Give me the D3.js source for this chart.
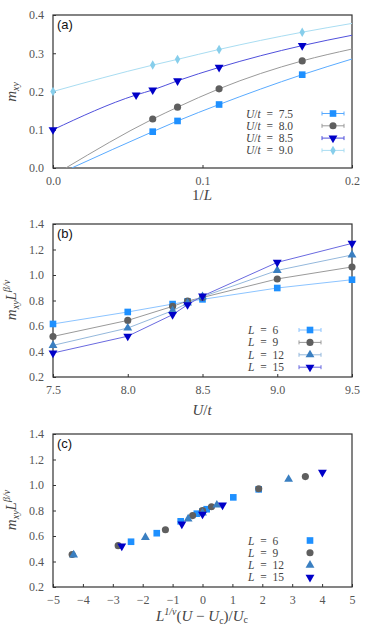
<!DOCTYPE html>
<html>
<head>
<meta charset="utf-8">
<script src="https://cdn.jsdelivr.net/npm/d3@7"></script>
<style>
  body { margin: 0; background: #fff; }
  svg text { font-family: "Liberation Serif", "DejaVu Serif", serif; }
</style>
</head>
<body>
<script>
// panel (a): m_xy vs 1/L
const a75 = [[0.0667, 0.095], [0.0833, 0.123], [0.1111, 0.166], [0.1667, 0.244]]
const a80 = [[0.0667, 0.128], [0.0833, 0.159], [0.1111, 0.207], [0.1667, 0.28]]
const a85 = [[0, 0.1], [0.0556, 0.191], [0.0667, 0.204], [0.0833, 0.228], [0.1111, 0.263], [0.1667, 0.32]]
const a90 = [[0, 0.2], [0.0667, 0.269], [0.0833, 0.284], [0.1111, 0.31], [0.1667, 0.355]]
// fit curves (knots)
const fit75 = [[0.0125, 0], [0.0667, 0.095], [0.0833, 0.123], [0.1111, 0.166], [0.1667, 0.244], [0.2, 0.285]]
const fit80 = [[0.0085, 0], [0.0667, 0.128], [0.0833, 0.159], [0.1111, 0.207], [0.1667, 0.28], [0.2, 0.311]]
const fit85 = [[0, 0.1], [0.0556, 0.191], [0.0667, 0.204], [0.0833, 0.228], [0.1111, 0.263], [0.1667, 0.32], [0.2, 0.347]]
const fit90 = [[0, 0.2], [0.0667, 0.269], [0.0833, 0.284], [0.1111, 0.31], [0.1667, 0.355], [0.2, 0.378]]
const labelsA = ['7.5', '8.0', '8.5', '9.0']
const ticksAx = [0, 0.1, 0.2]
const ticksAy = [0, 0.1, 0.2, 0.3, 0.4]

// panel (b): m_xy L^(beta/nu) vs U/t
const uVals = [7.5, 8.0, 8.3, 8.4, 8.5, 9.0, 9.5]
const b6 = [0.616, 0.71, 0.772, 0.793, 0.809, 0.898, 0.963]
const b9 = [0.518, 0.644, 0.754, 0.796, 0.824, 0.969, 1.063]
const b12 = [0.448, 0.584, 0.72, 0.78, 0.83, 1.036, 1.157]
const b15 = [0.388, 0.52, 0.689, 0.767, 0.835, 1.099, 1.248]
const labelsL = ['6', '9', '12', '15']
const ticksBx = [7.5, 8.0, 8.5, 9.0, 9.5]
const ticksY = [0.2, 0.4, 0.6, 0.8, 1.0, 1.2, 1.4]

// panel (c): collapse
const c6 = [[-2.39, 0.555], [-1.53, 0.622], [-0.73, 0.715], [-0.19, 0.775], [0, 0.793], [0.14, 0.81], [1.03, 0.903], [1.88, 0.966]]
const c9 = [[-4.36, 0.455], [-2.82, 0.524], [-1.24, 0.649], [-0.33, 0.76], [0, 0.8], [0.3, 0.829], [1.88, 0.971], [3.44, 1.066]]
const c12 = [[-4.31, 0.452], [-1.91, 0.589], [-0.48, 0.734], [0, 0.78], [0.48, 0.843], [2.88, 1.045]]
const c15 = [[-2.7, 0.521], [-0.69, 0.694], [0, 0.771], [0.67, 0.842], [4.01, 1.099]]
const ticksCx = [-5, -4, -3, -2, -1, 0, 1, 2, 3, 4, 5]

const W = 374
const H = 628
const x0 = 53
const x1 = 352
const serif = '"Liberation Serif", "DejaVu Serif", serif'

const svg = d3.select('body').append('svg').attr('width', W).attr('height', H)
  .attr('font-family', serif)

const sym = {
  square: { type: d3.symbolSquare, size: 44, rot: 0 },
  circle: { type: d3.symbolCircle, size: 40, rot: 0 },
  down: { type: d3.symbolTriangle, size: 34, rot: 180 },
  up: { type: d3.symbolTriangle, size: 34, rot: 0 },
  diamond: { type: d3.symbolDiamond, size: 26, rot: 0 }
}

const marker = (g, x, y, s, color) => {
  g.append('path')
    .attr('d', d3.symbol().type(sym[s].type).size(sym[s].size)())
    .attr('transform', `translate(${x},${y}) rotate(${sym[s].rot})`)
    .attr('fill', color)
}

const frame = (id, top, bottom, xScale, yScale, xTicks, yTicks, xFmt, yFmt, letter) => {
  const g = svg.append('g')
  g.append('clipPath').attr('id', id).append('rect')
    .attr('x', x0).attr('y', top).attr('width', x1 - x0).attr('height', bottom - top)

  const xAxis = d3.axisBottom(xScale).tickValues(xTicks).tickFormat(xFmt).tickSize(-3).tickPadding(8)
  const yAxis = d3.axisLeft(yScale).tickValues(yTicks).tickFormat(yFmt).tickSize(-3).tickPadding(9)

  g.append('g').attr('transform', `translate(0,${bottom})`).call(xAxis)
    .attr('font-family', serif).attr('font-size', 12)
    .call((a) => a.select('.domain').remove())
  g.append('g').attr('transform', `translate(${x0},0)`).call(yAxis)
    .attr('font-family', serif).attr('font-size', 12)
    .call((a) => a.select('.domain').remove())
  g.selectAll('.tick line').attr('stroke', '#333')
  g.selectAll('.tick text').attr('fill', '#555')

  g.append('rect').attr('x', x0).attr('y', top).attr('width', x1 - x0).attr('height', bottom - top)
    .attr('fill', 'none').attr('stroke', '#333').attr('stroke-width', 1.2)

  g.append('text').attr('x', x0 + 4).attr('y', top + 14).text(letter)
    .style('font-family', '"Liberation Sans", Arial, sans-serif').style('font-size', '13px').attr('fill', '#111')
  return g
}

const legendText = (g, x, y, parts) => {
  const t = g.append('text').attr('x', x).attr('y', y).attr('fill', '#444').style('font-size', '11.5px')
  parts.forEach((p) => {
    t.append('tspan').text(p[0]).style('font-style', p[1] ? 'italic' : 'normal')
  })
}

const errLegend = (g, cx, cy, half, color) => {
  g.append('line').attr('x1', cx - half).attr('x2', cx + half).attr('y1', cy).attr('y2', cy)
    .attr('stroke', color).attr('stroke-width', 1)
  ;[cx - half, cx + half].forEach((x) => {
    g.append('line').attr('x1', x).attr('x2', x).attr('y1', cy - 2).attr('y2', cy + 2)
      .attr('stroke', color).attr('stroke-width', 1)
  })
}

const eq = '\u2002=\u2002'

// ---------- panel (a)
{
  const top = 15
  const bottom = 168
  const xs = d3.scaleLinear().domain([0, 0.2]).range([x0, x1])
  const ys = d3.scaleLinear().domain([0, 0.4]).range([bottom, top])
  const g = frame('clipA', top, bottom, xs, ys, ticksAx, ticksAy, d3.format('.1f'), d3.format('.1f'), '(a)')

  const series = [
    { pts: a75, fit: fit75, s: 'square', c: '#1e90ff', lc: '#5aabff' },
    { pts: a80, fit: fit80, s: 'circle', c: '#5f5f5f', lc: '#9a9a9a' },
    { pts: a85, fit: fit85, s: 'down', c: '#0000c8', lc: '#5050dc' },
    { pts: a90, fit: fit90, s: 'diamond', c: '#87ceeb', lc: '#a9ddf2' }
  ]
  const line = d3.line().x((d) => xs(d[0])).y((d) => ys(d[1])).curve(d3.curveMonotoneX)
  series.forEach((d) => {
    g.append('path').attr('d', line(d.fit)).attr('fill', 'none').attr('stroke', d.lc)
      .attr('stroke-width', 1).attr('clip-path', 'url(#clipA)')
  })
  series.forEach((d) => {
    d.pts.forEach((p) => marker(g, xs(p[0]), ys(p[1]), d.s, d.c))
  })
  series.forEach((d, i) => {
    const y = 113.5 + i * 12.3
    legendText(g, 246, y + 4, [['U', true], ['/', false], ['t', true], [eq + labelsA[i], false]])
    errLegend(g, 333, y, 11, d.lc)
    marker(g, 333, y, d.s, d.c)
  })

  svg.append('text').attr('x', 202).attr('y', 200).attr('text-anchor', 'middle')
    .attr('fill', '#444').style('font-size', '15px')
    .call((t) => {
      t.append('tspan').text('1/')
      t.append('tspan').text('L').style('font-style', 'italic')
    })
  svg.append('text').attr('transform', 'translate(16,92) rotate(-90)').attr('text-anchor', 'middle')
    .attr('fill', '#444').style('font-size', '15px').style('font-style', 'italic')
    .call((t) => {
      t.append('tspan').text('m')
      t.append('tspan').text('xy').attr('dy', 3).style('font-size', '10px')
    })
}

// ---------- panels (b) and (c) y label
const yTitleB = (cy) => {
  svg.append('text').attr('transform', `translate(16,${cy}) rotate(-90)`).attr('text-anchor', 'middle')
    .attr('fill', '#444').style('font-size', '15px').style('font-style', 'italic')
    .call((t) => {
      t.append('tspan').text('m')
      t.append('tspan').text('xy').attr('dy', 3).style('font-size', '10px')
      t.append('tspan').text('L').attr('dy', -3)
      t.append('tspan').text('β/ν').attr('dy', -6).style('font-size', '10px')
    })
}

const seriesL = [
  { s: 'square', c: '#1e90ff', lc: '#8cc4ff' },
  { s: 'circle', c: '#5f5f5f', lc: '#9a9a9a' },
  { s: 'up', c: '#3a7fc1', lc: '#94b8dc' },
  { s: 'down', c: '#0000c8', lc: '#6a6ae0' }
]

// ---------- panel (b)
{
  const top = 224
  const bottom = 377
  const xs = d3.scaleLinear().domain([7.5, 9.5]).range([x0, x1])
  const ys = d3.scaleLinear().domain([0.2, 1.4]).range([bottom, top])
  const g = frame('clipB', top, bottom, xs, ys, ticksBx, ticksY, d3.format('.1f'), d3.format('.1f'), '(b)')

  const rows = [b6, b9, b12, b15]
  const line = d3.line().x((d, i) => xs(uVals[i])).y((d) => ys(d))
  rows.forEach((r, k) => {
    g.append('path').attr('d', line(r)).attr('fill', 'none').attr('stroke', seriesL[k].lc).attr('stroke-width', 1)
  })
  rows.forEach((r, k) => {
    r.forEach((v, i) => marker(g, xs(uVals[i]), ys(v), seriesL[k].s, seriesL[k].c))
  })
  seriesL.forEach((d, i) => {
    const y = 330 + i * 12.4
    legendText(g, 248, y + 4, [['L', true], [eq + labelsL[i], false]])
    errLegend(g, 310, y, 11, d.lc)
    marker(g, 310, y, d.s, d.c)
  })

  svg.append('text').attr('x', 202).attr('y', 415).attr('text-anchor', 'middle')
    .attr('fill', '#444').style('font-size', '15px')
    .call((t) => {
      t.append('tspan').text('U').style('font-style', 'italic')
      t.append('tspan').text('/')
      t.append('tspan').text('t').style('font-style', 'italic')
    })
  yTitleB(300)
}

// ---------- panel (c)
{
  const top = 434
  const bottom = 587
  const xs = d3.scaleLinear().domain([-5, 5]).range([x0, x1])
  const ys = d3.scaleLinear().domain([0.2, 1.4]).range([bottom, top])
  const g = frame('clipC', top, bottom, xs, ys, ticksCx, ticksY, d3.format('d'), d3.format('.1f'), '(c)')

  const rows = [c6, c9, c12, c15]
  rows.forEach((r, k) => {
    r.forEach((p) => marker(g, xs(p[0]), ys(p[1]), seriesL[k].s, seriesL[k].c))
  })
  seriesL.forEach((d, i) => {
    const y = 540.5 + i * 12.3
    legendText(g, 248, y + 4, [['L', true], [eq + labelsL[i], false]])
    marker(g, 310, y, d.s, d.c)
  })

  svg.append('text').attr('x', 202).attr('y', 621).attr('text-anchor', 'middle')
    .attr('fill', '#444').style('font-size', '15px')
    .call((t) => {
      t.append('tspan').text('L').style('font-style', 'italic')
      t.append('tspan').text('1/ν').attr('dy', -6).style('font-size', '10px').style('font-style', 'italic')
      t.append('tspan').text('(').attr('dy', 6)
      t.append('tspan').text('U').style('font-style', 'italic')
      t.append('tspan').text(' − ')
      t.append('tspan').text('U').style('font-style', 'italic')
      t.append('tspan').text('c').attr('dy', 3).style('font-size', '10px')
      t.append('tspan').text(')/').attr('dy', -3)
      t.append('tspan').text('U').style('font-style', 'italic')
      t.append('tspan').text('c').attr('dy', 2).style('font-size', '10px')
    })
  yTitleB(510)
}
</script>
</body>
</html>
